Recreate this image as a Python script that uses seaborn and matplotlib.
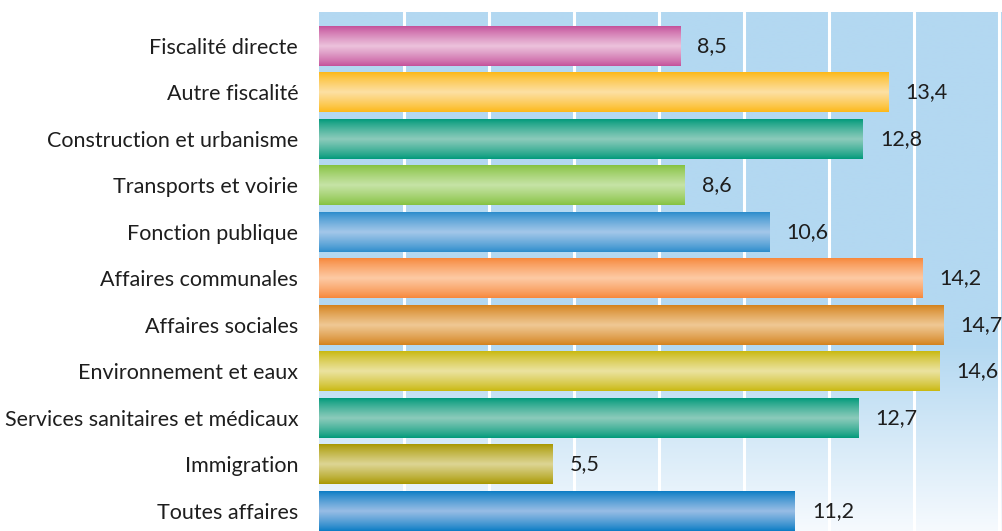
import numpy as np
import pandas as pd
import matplotlib
matplotlib.use("Agg")
import matplotlib.pyplot as plt
import seaborn as sns
from matplotlib.colors import to_rgb

# ---------------- data ----------------
categories = [
    "Fiscalité directe",
    "Autre fiscalité",
    "Construction et urbanisme",
    "Transports et voirie",
    "Fonction publique",
    "Affaires communales",
    "Affaires sociales",
    "Environnement et eaux",
    "Services sanitaires et médicaux",
    "Immigration",
    "Toutes affaires",
]
values = [8.5, 13.4, 12.8, 8.6, 10.6, 14.2, 14.7, 14.6, 12.7, 5.5, 11.2]

edge_colors = ["#c4509a", "#fcb816", "#009a7a", "#85c240", "#2b8ccc", "#f7873a",
               "#d4821c", "#c9b80e", "#009a7a", "#a89800", "#0a7cc4"]
center_colors = ["#ecc2dc", "#fde0a4", "#8ccbbb", "#c6e3a6", "#a3c7e9", "#fdcaa4",
                 "#efc894", "#ebe3a0", "#8ccbbb", "#ddd594", "#98bde5"]

# ---------------- figure ----------------
sns.set_theme(style="white")
plt.rcParams["font.family"] = ["Lato", "DejaVu Sans"]

W, H = 1002, 531
fig = plt.figure(figsize=(W / 100, H / 100), dpi=100)
ax = fig.add_axes([319 / W, 0, 1 - 319 / W, 519 / H])

df = pd.DataFrame({"cat": categories, "val": values})
sns.barplot(data=df, y="cat", x="val", hue="cat", palette=edge_colors,
            saturation=1, width=0.86, legend=False, ax=ax, zorder=2,
            linewidth=0, edgecolor="none")

# background gradient (light blue top -> near white bottom)
top = np.array(to_rgb("#b3d8f1"))
bot = np.array(to_rgb("#f6fafe"))
yy = np.linspace(0, 1, 256)  # 0 = bottom
f = np.clip(yy / 0.36, 0, 1)
bg = bot[None, :] + (top - bot)[None, :] * f[:, None]
bg = bg[::-1][:, None, :]
ax.imshow(bg, extent=[0, 1, 0, 1], transform=ax.transAxes, aspect="auto",
          zorder=0, interpolation="bilinear")

# gradient fill for each bar
N = 96
t = np.linspace(-1, 1, N)
prof = (1 - np.abs(t)) ** 0.85
for cont, ec, cc in zip(ax.containers, edge_colors, center_colors):
    for p in cont:
        x0, y0, w, h = p.get_x(), p.get_y(), p.get_width(), p.get_height()
        e = np.array(to_rgb(ec)); c = np.array(to_rgb(cc))
        img = (e[None, :] + (c - e)[None, :] * prof[:, None])[:, None, :]
        ax.imshow(img, extent=[x0, x0 + w, y0 + h, y0], aspect="auto",
                  zorder=2.5, interpolation="bilinear")
        lbl = f"{w:.1f}".replace(".", ",")
        ax.annotate(lbl, xy=(x0 + w, y0 + h / 2), xytext=(12.5, 0),
                    textcoords="offset points", va="center", ha="left",
                    fontsize=15.5, color="#1e1e1e")

ax.set_xlim(0, 16.08)
ax.set_ylim(10.43, -0.73)
ax.set_xticks(np.arange(2, 17, 2))
ax.set_axisbelow(True)
ax.xaxis.grid(True, color="white", lw=2.2)
ax.yaxis.grid(False)
ax.tick_params(axis="x", labelbottom=False, length=0)
ax.tick_params(axis="y", length=0, pad=15, labelsize=15.5, labelcolor="#1e1e1e")
ax.set_xlabel("")
ax.set_ylabel("")
for s in ax.spines.values():
    s.set_visible(False)

fig.savefig("out.png", dpi=100)
